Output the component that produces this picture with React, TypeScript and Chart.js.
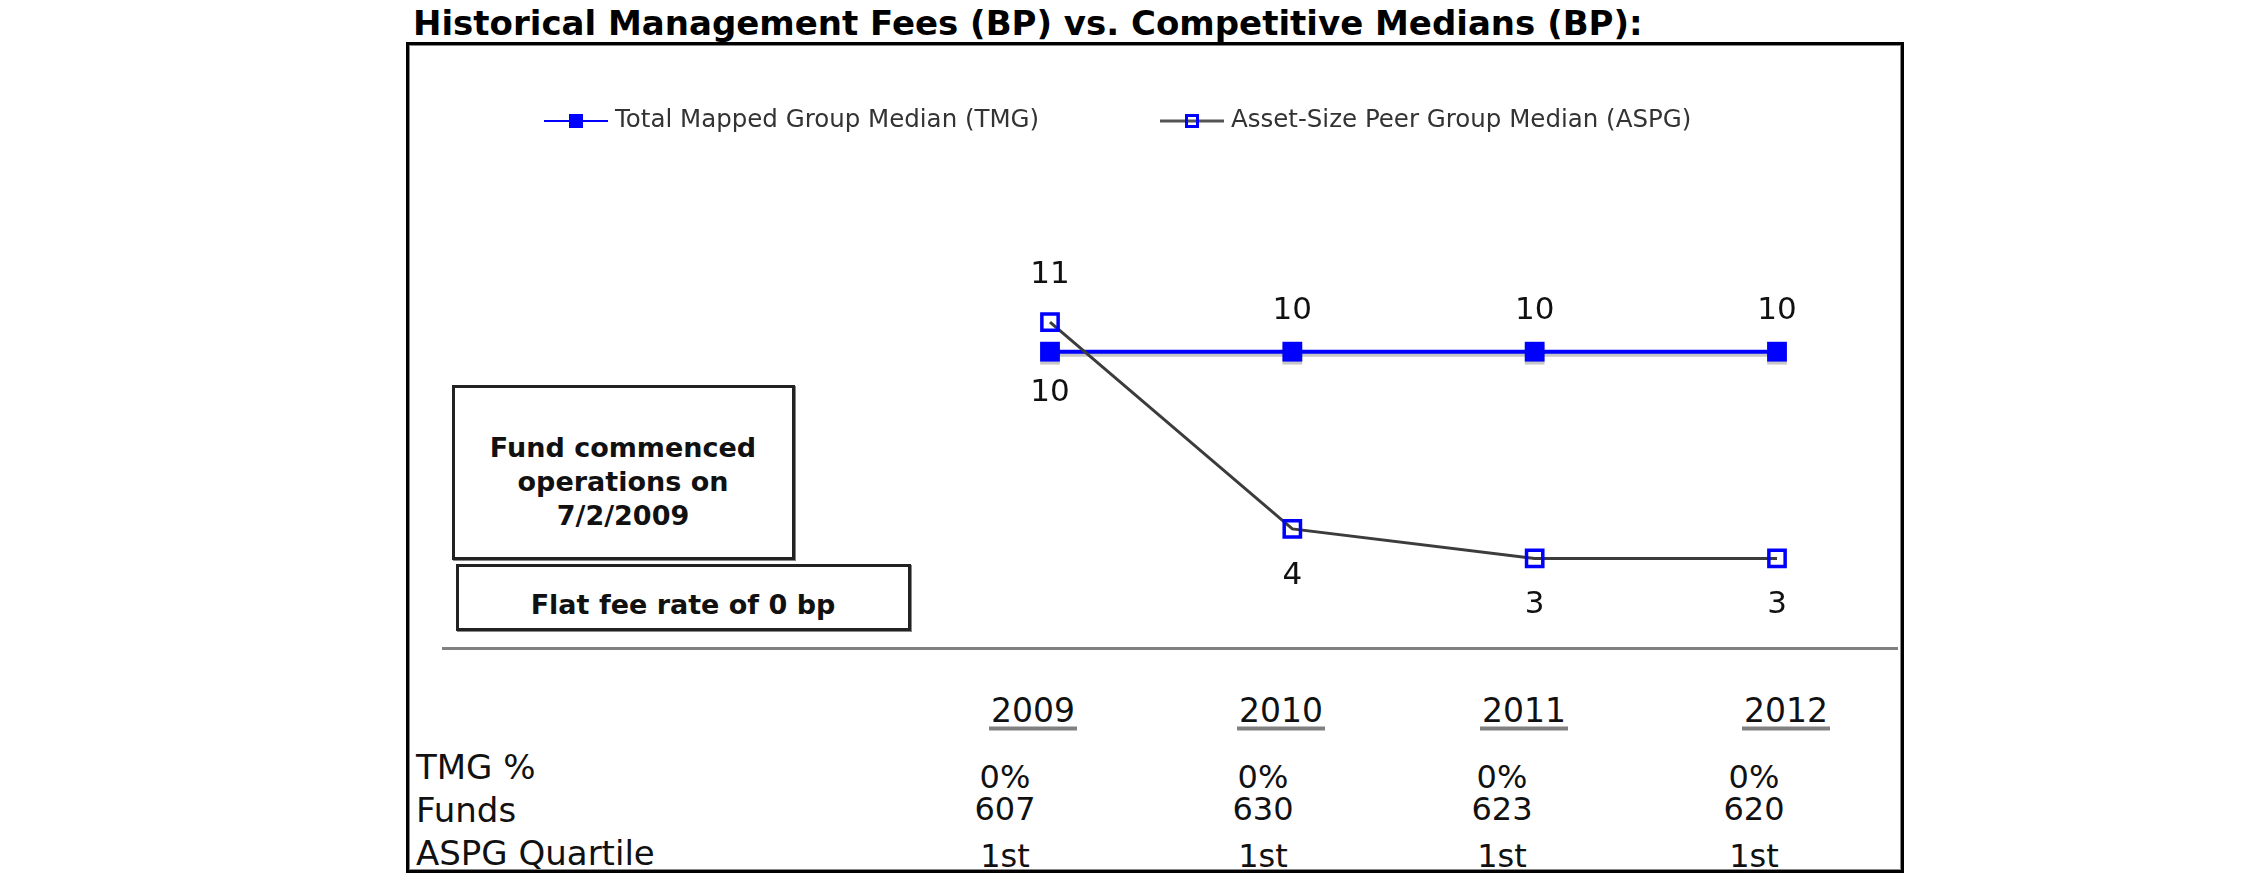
import React, { useEffect, useRef } from 'react';
import { Chart, registerables } from 'chart.js';

Chart.register(...registerables);

// ---- data ----
const years = ['2009', '2010', '2011', '2012'];
const tmgMedian = [10, 10, 10, 10];
const aspgMedian = [11, 4, 3, 3];
const seriesNames = ['Total Mapped Group Median (TMG)', 'Asset-Size Peer Group Median (ASPG)'];
const tmgPct = ['0%', '0%', '0%', '0%'];
const fundCounts = ['607', '630', '623', '620'];
const aspgQuartile = ['1st', '1st', '1st', '1st'];
const rowLabels = ['TMG %', 'Funds', 'ASPG Quartile'];
const titleText = 'Historical Management Fees (BP) vs. Competitive Medians (BP):';
const noteLines = ['Fund commenced', 'operations on', '7/2/2009'];
const feeNote = 'Flat fee rate of 0 bp';

const FONT = '"DejaVu Sans", Verdana, sans-serif';
const BLUE = '#0000ff';
const GREY_LINE = '#3c3c3c';

const shadowPlugin = {
  id: 'tmgShadow',
  beforeDatasetDraw(chart: any, args: any) {
    if (args.index === 0) {
      const ctx = chart.ctx;
      ctx.save();
      ctx.shadowColor = 'rgba(0,0,0,0.22)';
      ctx.shadowOffsetX = 0;
      ctx.shadowOffsetY = 3;
      ctx.shadowBlur = 0;
    }
  },
  afterDatasetDraw(chart: any, args: any) {
    if (args.index === 0) chart.ctx.restore();
  },
};

const valueLabelPlugin = {
  id: 'valueLabels',
  afterDatasetsDraw(chart: any) {
    const ctx = chart.ctx;
    const ds = chart.data.datasets;
    ctx.save();
    ctx.font = `31px ${FONT}`;
    ctx.fillStyle = '#111';
    ctx.textAlign = 'center';
    ctx.textBaseline = 'middle';
    ds.forEach((d: any, di: number) => {
      const meta = chart.getDatasetMeta(di);
      const other = ds[1 - di];
      d.data.forEach((v: number, i: number) => {
        const pt = meta.data[i];
        const above = v >= other.data[i];
        const off = di === 0 ? 41 : 47;
        ctx.fillText(String(v), pt.x, above ? pt.y - off : pt.y + off);
      });
    });
    ctx.restore();
  },
};

const legendPlugin = {
  id: 'lineLegend',
  afterDraw(chart: any) {
    const ctx = chart.ctx;
    const starts = [544, 1160];
    const y = 121;
    ctx.save();
    chart.data.datasets.forEach((d: any, i: number) => {
      const x0 = starts[i];
      const len = 64;
      ctx.strokeStyle = i === 0 ? BLUE : '#555';
      ctx.lineWidth = i === 0 ? 2 : 3;
      ctx.beginPath();
      ctx.moveTo(x0, y);
      ctx.lineTo(x0 + len, y);
      ctx.stroke();
      const mx = x0 + len / 2;
      const s = 14;
      if (i === 0) {
        ctx.fillStyle = BLUE;
        ctx.fillRect(mx - s / 2, y - s / 2, s, s);
      } else {
        ctx.strokeStyle = BLUE;
        ctx.lineWidth = 3;
        ctx.strokeRect(mx - s / 2 + 1.5, y - s / 2 + 1.5, s - 3, s - 3);
      }
      ctx.fillStyle = '#333';
      ctx.font = `24.5px ${FONT}`;
      ctx.textAlign = 'left';
      ctx.textBaseline = 'middle';
      ctx.fillText(d.label, x0 + len + 7, y);
    });
    ctx.restore();
  },
};

const abs = (left: number, top: number, extra: any = {}): React.CSSProperties => ({
  position: 'absolute',
  left,
  top,
  whiteSpace: 'nowrap',
  lineHeight: 1,
  fontFamily: FONT,
  color: '#111',
  ...extra,
});

export default function App() {
  const ref = useRef<HTMLCanvasElement | null>(null);

  useEffect(() => {
    if (!ref.current) return;
    const chart = new Chart(ref.current, {
      type: 'line',
      data: {
        labels: years,
        datasets: [
          {
            label: seriesNames[0],
            data: tmgMedian,
            borderColor: BLUE,
            borderWidth: 4,
            pointStyle: 'rect',
            pointRadius: 14,
            pointBackgroundColor: BLUE,
            pointBorderColor: BLUE,
            pointBorderWidth: 0,
            tension: 0,
            clip: false,
            order: 1,
          } as any,
          {
            label: seriesNames[1],
            data: aspgMedian,
            borderColor: GREY_LINE,
            borderWidth: 3,
            pointStyle: 'rect',
            pointRadius: 11.5,
            pointBackgroundColor: 'rgba(255,255,255,0)',
            pointBorderColor: BLUE,
            pointBorderWidth: 3.5,
            tension: 0,
            clip: false,
            order: 0,
          } as any,
        ],
      },
      options: {
        responsive: false,
        devicePixelRatio: 1,
        animation: false,
        events: [],
        layout: { padding: { left: 1050, right: 473, top: 204, bottom: 248 } },
        scales: {
          x: { type: 'category', display: false },
          y: { display: false, min: 0, max: 15 },
        },
        plugins: {
          legend: { display: false },
          tooltip: { enabled: false },
        },
      },
      plugins: [shadowPlugin, valueLabelPlugin, legendPlugin],
    });
    return () => chart.destroy();
  }, []);

  const yearX = [1033, 1281, 1524, 1786];
  const valX = [1005, 1263, 1502, 1754];
  const rows = [tmgPct, fundCounts, aspgQuartile];
  const labelY = [767, 810, 853];
  const valY = [777, 809, 856];

  return (
    <div style={{ position: 'absolute', left: 0, top: 0, width: 2250, height: 895, overflow: 'hidden', background: '#fff' }}>
      <div style={abs(413, 23, { fontSize: 34, fontWeight: 'bold', transform: 'translateY(-50%)', color: '#000' })}>{titleText}</div>
      <div
        style={{
          position: 'absolute',
          left: 406,
          top: 42,
          width: 1498 - 6,
          height: 831 - 6,
          border: '3px solid #000',
          boxShadow: 'inset 0 0 0 1px #888',
        }}
      />
      <div
        style={{
          position: 'absolute',
          left: 452,
          top: 385,
          width: 343 - 6,
          height: 175 - 6,
          border: '3px solid #222',
          boxShadow: '1px 1px 0 #888',
          background: '#fff',
        }}
      />
      {noteLines.map((t, i) => (
        <div key={t} style={abs(623, 447 + i * 34, { fontSize: 27, fontWeight: 'bold', transform: 'translate(-50%,-50%)' })}>{t}</div>
      ))}
      <div
        style={{
          position: 'absolute',
          left: 456,
          top: 564,
          width: 455 - 6,
          height: 67 - 6,
          border: '3px solid #222',
          boxShadow: '1px 1px 0 #888',
          background: '#fff',
        }}
      />
      <div style={abs(683, 604, { fontSize: 27, fontWeight: 'bold', transform: 'translate(-50%,-50%)' })}>{feeNote}</div>
      <div style={{ position: 'absolute', left: 442, top: 647, width: 1456, height: 3, background: '#808080' }} />
      {years.map((y, i) => (
        <div key={y} style={abs(yearX[i], 712, { fontSize: 33, transform: 'translate(-50%,-50%)' })}>
          <span style={{ display: 'inline-block', borderBottom: '4px solid #808080', padding: '0 2px' }}>{y}</span>
        </div>
      ))}
      {rowLabels.map((l, r) => (
        <div key={l} style={abs(416, labelY[r], { fontSize: 34, transform: 'translateY(-50%)' })}>{l}</div>
      ))}
      {rows.map((row, r) =>
        row.map((v, i) => (
          <div key={r + '-' + i} style={abs(valX[i], valY[r], { fontSize: 32, transform: 'translate(-50%,-50%)' })}>{v}</div>
        ))
      )}
      <canvas ref={ref} width={2250} height={895} style={{ position: 'absolute', left: 0, top: 0, width: 2250, height: 895 }} />
    </div>
  );
}
